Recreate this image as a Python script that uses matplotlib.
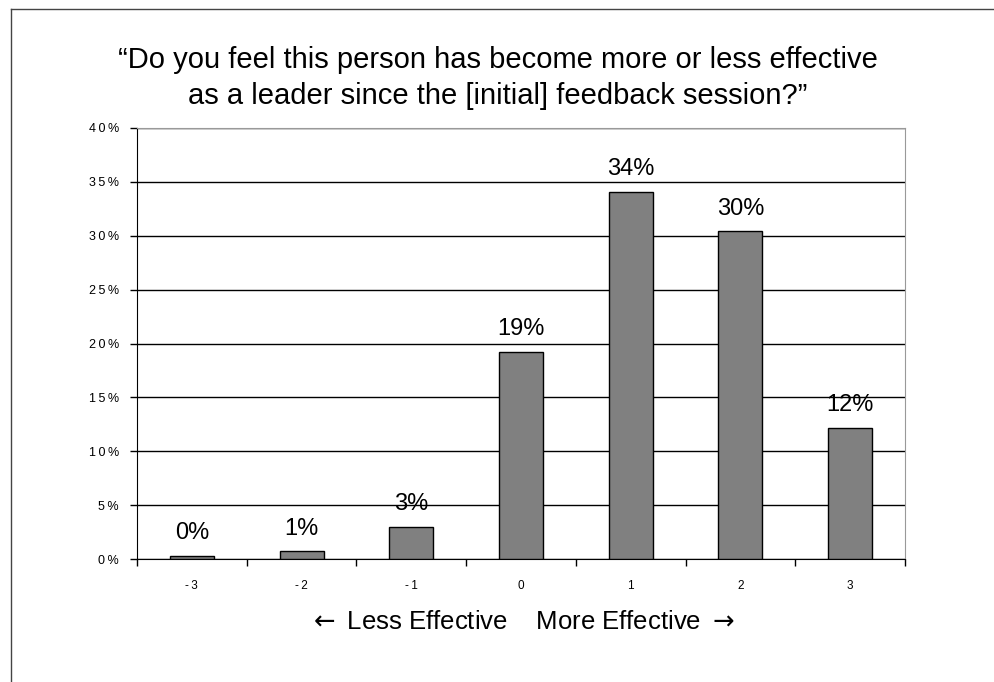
import matplotlib.pyplot as plt
from matplotlib.lines import Line2D

plt.rcParams['font.family'] = ['Liberation Sans', 'DejaVu Sans']
plt.rcParams['mathtext.fontset'] = 'dejavusans'

scores = [-3, -2, -1, 0, 1, 2, 3]
share = [0.3, 0.7, 3.0, 19.2, 34.1, 30.4, 12.2]
labels = ['0%', '1%', '3%', '19%', '34%', '30%', '12%']

ts = '\u2009'

fig = plt.figure(figsize=(9.95, 6.82), dpi=100)
ax = fig.add_axes([137/995, 1 - 559/682, (905-137)/995, (559-128)/682])

pos = range(len(scores))
ax.bar(pos, share, width=0.4, color='#808080', edgecolor='black', linewidth=1, zorder=3)
for i, (v, t) in enumerate(zip(share, labels)):
    ax.text(i, v + 1.1, t, ha='center', va='bottom', fontsize=17)

ax.set_xlim(-0.5, len(scores) - 0.5)
ax.set_ylim(0, 40)
ax.set_yticks(range(0, 41, 5))
ax.set_yticklabels([ts.join('%d%%' % y) for y in range(0, 41, 5)], fontsize=9)
ax.yaxis.grid(True, color='black', linewidth=1, zorder=0)
ax.set_xticks(pos)
ax.set_xticklabels([ts.join(str(s)) for s in scores], fontsize=8.5)
ax.tick_params(axis='x', length=0, pad=15)
ax.set_xticks([p + 0.5 for p in range(-1, len(scores))], minor=True)
ax.tick_params(axis='x', which='minor', length=5, direction='out', width=1)
ax.tick_params(axis='y', length=5, direction='out', width=1, pad=8)

ax.spines['left'].set_color('black')
ax.spines['bottom'].set_color('black')
ax.spines['top'].set_color('#999999')
ax.spines['right'].set_color('#999999')

ax.set_xlabel(r'$\leftarrow$ Less Effective    More Effective $\rightarrow$',
              fontsize=18.5, labelpad=13)

fig.text(0.5, 1 - 78/682, '\u201cDo you feel this person has become more or less effective\n'
         'as a leader since the [initial] feedback session?\u201d',
         ha='center', va='center', fontsize=21, linespacing=1.4)

# outer frame (top-left corner visible)
fig.add_artist(Line2D([11/995, 11/995], [0, 1 - 9/682], color='#444444', linewidth=1))
fig.add_artist(Line2D([11/995, 1], [1 - 9/682, 1 - 9/682], color='#444444', linewidth=1))

fig.savefig('out.png', dpi=100)
